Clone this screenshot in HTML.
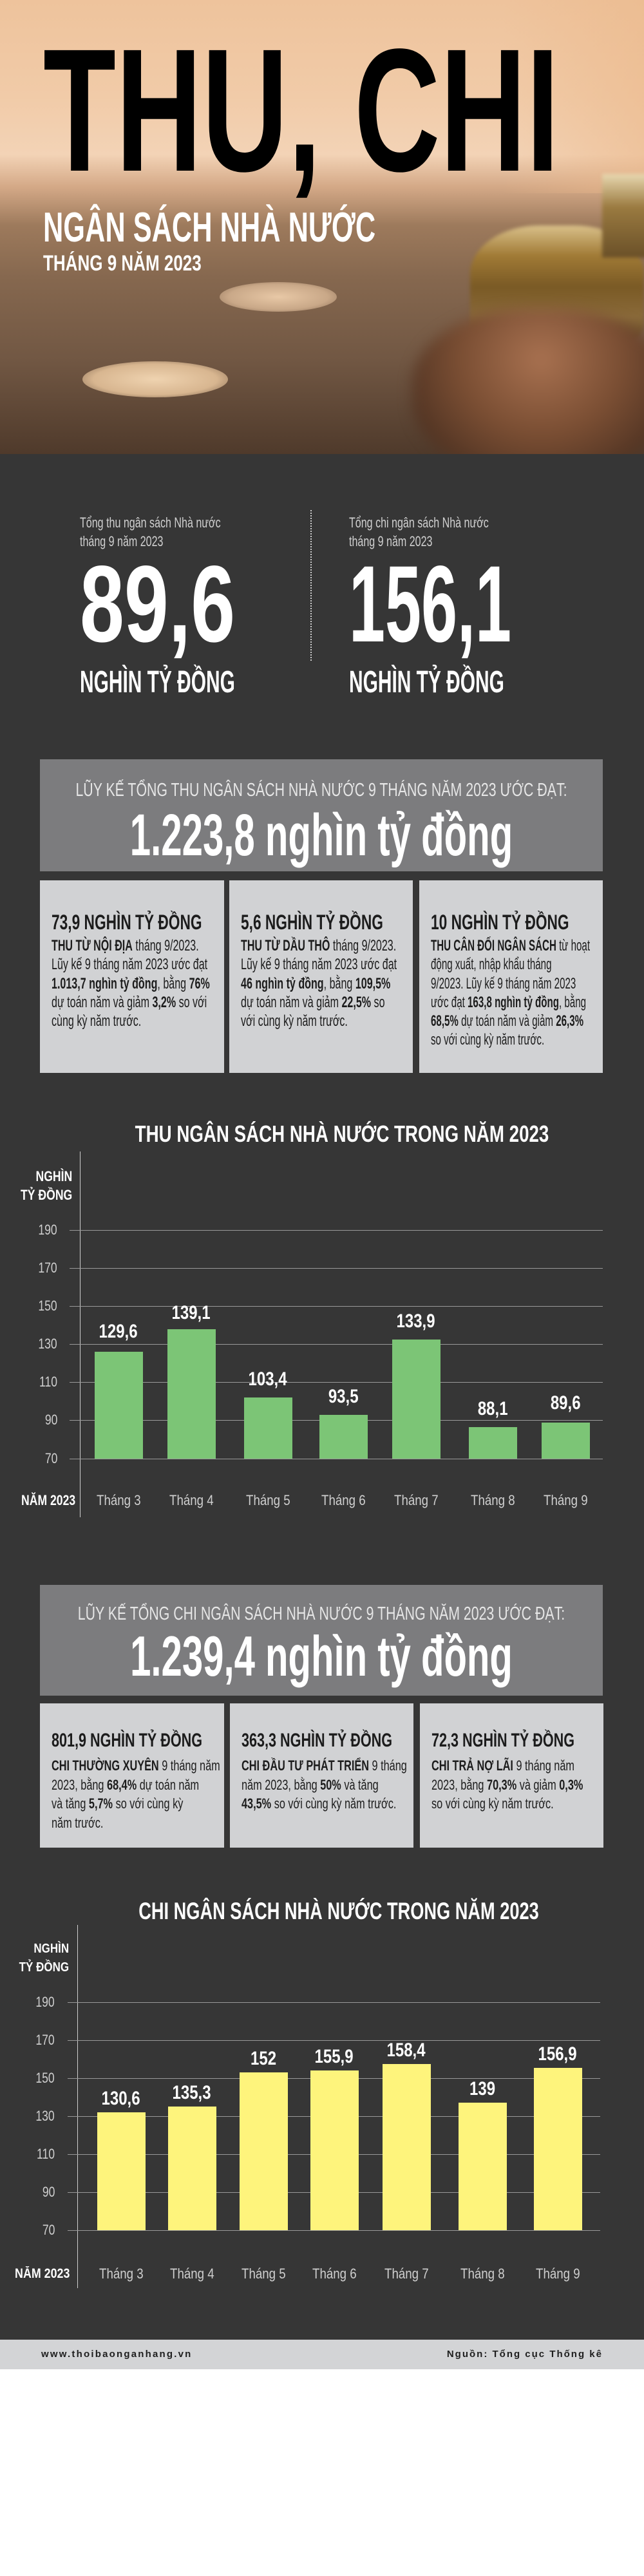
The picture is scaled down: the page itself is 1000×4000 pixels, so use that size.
<!DOCTYPE html>
<html><head><meta charset="utf-8">
<style>
*{margin:0;padding:0;box-sizing:border-box}
body{width:1000px;height:4000px;background:#fff;position:relative;overflow:hidden;font-family:"Liberation Sans",sans-serif}
.a{position:absolute;white-space:nowrap;line-height:1}
.s{display:inline-block;transform-origin:left top}
.m{position:absolute;white-space:nowrap;line-height:1;width:0}
.m .s{position:absolute;left:0;top:0;transform-origin:center top}
.r{text-align:right}.r .s{transform-origin:right top}
.b{font-weight:bold}
.gl{position:absolute;height:1px;background:#9a9a9a}
.bar1{position:absolute;width:75px;background:#7cc576}
.bar2{position:absolute;width:75px;background:#fef47c}
.tk{position:absolute;width:60px;text-align:right;font-size:22px;color:#cfcfcf;line-height:22px}
.tk span{display:inline-block;transform:scaleX(.8);transform-origin:right center}
.vl{position:absolute;width:120px;text-align:center;font-size:30px;font-weight:bold;color:#fff;line-height:1}
.vl span{display:inline-block;transform:scaleX(.8);transform-origin:center}
.xl{position:absolute;width:120px;text-align:center;font-size:22px;color:#cfcfcf;line-height:22px}
.xl span{display:inline-block;transform:scaleX(.85);transform-origin:center}
.box{position:absolute;background:#d1d2d4;color:#1c1c1c;overflow:hidden}
.bi{position:absolute;left:18px;white-space:nowrap;transform-origin:left top}
</style></head><body>

<!-- HERO -->
<div style="position:absolute;left:0;top:0;width:1000px;height:705px;background:linear-gradient(180deg,#eec39c 0px,#f1cba8 150px,#f3d3b6 240px,#d4a987 290px,#9d7a5c 350px,#86684f 430px,#715743 560px,#4f3a2b 705px);overflow:hidden">
  <div style="position:absolute;left:780px;top:0;width:220px;height:300px;background:linear-gradient(90deg,rgba(240,200,160,0),rgba(235,185,140,.6))"></div>
  <div style="position:absolute;left:128px;top:561px;width:226px;height:56px;border-radius:50%;background:radial-gradient(ellipse at center,#efd3b0 0%,#d8b690 60%,rgba(180,140,100,0) 100%)"></div>
  <div style="position:absolute;left:341px;top:438px;width:182px;height:46px;border-radius:50%;background:radial-gradient(ellipse at center,#e8c8a6 0%,#c9a888 60%,rgba(160,120,90,0) 100%)"></div>
  <div style="position:absolute;left:730px;top:350px;width:270px;height:190px;border-radius:40% 40% 20% 20%;background:linear-gradient(180deg,#d9c08a 0%,#a07a35 25%,#7a5a25 50%,#8a6a3a 75%,#5a4020 100%);filter:blur(3px)"></div>
  <div style="position:absolute;left:935px;top:270px;width:80px;height:130px;background:linear-gradient(180deg,#e8d8b0,#9a7a40 40%,#6a5028);filter:blur(3px)"></div>
  <div style="position:absolute;left:640px;top:480px;width:400px;height:260px;border-radius:45%;background:radial-gradient(ellipse at 50% 30%,#a87150 0%,#7a4e33 45%,#4e3222 80%);filter:blur(10px)"></div>
  <div class="a b" style="left:67px;top:35px;font-size:272px;color:#000"><span class="s" style="transform:scaleX(.68)">THU, CHI</span></div>
  <div class="a b" style="left:67px;top:320px;font-size:65px;color:#fff"><span class="s" style="transform:scaleX(.667)">NGÂN SÁCH NHÀ NƯỚC</span></div>
  <div class="a b" style="left:67px;top:392px;font-size:34px;color:#fff"><span class="s" style="transform:scaleX(.765)">THÁNG 9 NĂM 2023</span></div>
</div>

<!-- DARK BG -->
<div style="position:absolute;left:0;top:705px;width:1000px;height:2928px;background:#363636"></div>

<!-- Totals -->
<div class="a" style="left:124px;top:797px;font-size:22px;line-height:29px;color:#d0d0d0"><span class="s" style="transform:scaleX(.73)">Tổng thu ngân sách Nhà nước<br>tháng 9 năm 2023</span></div>
<div class="a b" style="left:124px;top:853px;font-size:169px;color:#fff"><span class="s" style="transform:scaleX(.733)">89,6</span></div>
<div class="a b" style="left:124px;top:1036px;font-size:48px;color:#fff"><span class="s" style="transform:scaleX(.623)">NGHÌN TỶ ĐỒNG</span></div>
<div style="position:absolute;left:482px;top:792px;width:0;height:234px;border-left:2px dotted #cfcfcf"></div>
<div class="a" style="left:542px;top:797px;font-size:22px;line-height:29px;color:#d0d0d0"><span class="s" style="transform:scaleX(.73)">Tổng chi ngân sách Nhà nước<br>tháng 9 năm 2023</span></div>
<div class="a b" style="left:542px;top:853px;font-size:169px;color:#fff"><span class="s" style="transform:scaleX(.596)">156,1</span></div>
<div class="a b" style="left:542px;top:1036px;font-size:48px;color:#fff"><span class="s" style="transform:scaleX(.623)">NGHÌN TỶ ĐỒNG</span></div>

<!-- Box THU -->
<div style="position:absolute;left:62px;top:1179px;width:874px;height:174px;background:#7c7c7e"></div>
<div class="m" style="left:499px;top:1213px;font-size:29px;color:#e6e6e6"><span class="s" style="transform:translateX(-50%) scaleX(.735)">LŨY KẾ TỔNG THU NGÂN SÁCH NHÀ NƯỚC 9 THÁNG NĂM 2023 ƯỚC ĐẠT:</span></div>
<div class="m b" style="left:499px;top:1251px;font-size:92px;color:#fff"><span class="s" style="transform:translateX(-50%) scaleX(.632)">1.223,8 nghìn tỷ đồng</span></div>

<div class="box" style="left:62px;top:1367px;width:286px;height:299px">
 <div class="bi b" style="top:49px;font-size:32px;line-height:1;transform:scaleX(.71)">73,9 NGHÌN TỶ ĐỒNG</div>
 <div class="bi" style="top:87px;font-size:24px;line-height:29.3px;transform:scaleX(.67)"><b>THU TỪ NỘI ĐỊA</b> tháng 9/2023.<br>Lũy kế 9 tháng năm 2023 ước đạt<br><b>1.013,7 nghìn tỷ đồng</b>, bằng <b>76%</b><br>dự toán năm và giảm <b>3,2%</b> so với<br>cùng kỳ năm trước.</div>
</div>
<div class="box" style="left:356px;top:1367px;width:285px;height:299px">
 <div class="bi b" style="top:49px;font-size:32px;line-height:1;transform:scaleX(.71)">5,6 NGHÌN TỶ ĐỒNG</div>
 <div class="bi" style="top:87px;font-size:24px;line-height:29.3px;transform:scaleX(.67)"><b>THU TỪ DẦU THÔ</b> tháng 9/2023.<br>Lũy kế 9 tháng năm 2023 ước đạt<br><b>46 nghìn tỷ đồng</b>, bằng <b>109,5%</b><br>dự toán năm và giảm <b>22,5%</b> so<br>với cùng kỳ năm trước.</div>
</div>
<div class="box" style="left:651px;top:1367px;width:285px;height:299px">
 <div class="bi b" style="top:49px;font-size:32px;line-height:1;transform:scaleX(.71)">10 NGHÌN TỶ ĐỒNG</div>
 <div class="bi" style="top:87px;font-size:24px;line-height:29.3px;transform:scaleX(.63)"><b>THU CÂN ĐỐI NGÂN SÁCH</b> từ hoạt<br>động xuất, nhập khẩu tháng<br>9/2023. Lũy kế 9 tháng năm 2023<br>ước đạt <b>163,8 nghìn tỷ đồng</b>, bằng<br><b>68,5%</b> dự toán năm và giảm <b>26,3%</b><br>so với cùng kỳ năm trước.</div>
</div>

<!-- Chart 1 -->
<div class="m b" style="left:531px;top:1743px;font-size:36px;color:#fff"><span class="s" style="transform:translateX(-50%) scaleX(.77)">THU NGÂN SÁCH NHÀ NƯỚC TRONG NĂM 2023</span></div>
<div style="position:absolute;left:124px;top:1788px;width:1px;height:568px;background:#cfcfcf"></div>
<div class="a r b" style="left:12px;width:100px;top:1812px;font-size:22px;line-height:29px;color:#fff"><span class="s" style="transform:scaleX(.8)">NGHÌN<br>TỶ ĐỒNG</span></div>
<div class="gl" style="left:108px;width:828px;top:1910px"></div>
<div class="gl" style="left:108px;width:828px;top:1969px"></div>
<div class="gl" style="left:108px;width:828px;top:2028px"></div>
<div class="gl" style="left:108px;width:828px;top:2087px"></div>
<div class="gl" style="left:108px;width:828px;top:2146px"></div>
<div class="gl" style="left:108px;width:828px;top:2205px"></div>
<div class="gl" style="left:108px;width:828px;top:2265px"></div>
<div class="tk" style="left:29px;top:1899px"><span>190</span></div>
<div class="tk" style="left:29px;top:1958px"><span>170</span></div>
<div class="tk" style="left:29px;top:2017px"><span>150</span></div>
<div class="tk" style="left:29px;top:2076px"><span>130</span></div>
<div class="tk" style="left:29px;top:2135px"><span>110</span></div>
<div class="tk" style="left:29px;top:2194px"><span>90</span></div>
<div class="tk" style="left:29px;top:2254px"><span>70</span></div>
<div class="bar1" style="left:147px;top:2099px;height:166px"></div>
<div class="bar1" style="left:260px;top:2064px;height:201px"></div>
<div class="bar1" style="left:379px;top:2170px;height:95px"></div>
<div class="bar1" style="left:496px;top:2197px;height:68px"></div>
<div class="bar1" style="left:609px;top:2080px;height:185px"></div>
<div class="bar1" style="left:728px;top:2216px;height:49px"></div>
<div class="bar1" style="left:841px;top:2209px;height:56px"></div>
<div class="vl" style="left:124px;top:2053px"><span>129,6</span></div>
<div class="vl" style="left:237px;top:2024px"><span>139,1</span></div>
<div class="vl" style="left:356px;top:2127px"><span>103,4</span></div>
<div class="vl" style="left:473px;top:2154px"><span>93,5</span></div>
<div class="vl" style="left:586px;top:2037px"><span>133,9</span></div>
<div class="vl" style="left:705px;top:2173px"><span>88,1</span></div>
<div class="vl" style="left:818px;top:2164px"><span>89,6</span></div>
<div class="a r b" style="left:12px;width:100px;top:2319px;font-size:22px;color:#fff"><span class="s" style="transform:scaleX(.8)">NĂM 2023</span></div>
<div class="xl" style="left:124px;top:2319px"><span>Tháng 3</span></div>
<div class="xl" style="left:237px;top:2319px"><span>Tháng 4</span></div>
<div class="xl" style="left:356px;top:2319px"><span>Tháng 5</span></div>
<div class="xl" style="left:473px;top:2319px"><span>Tháng 6</span></div>
<div class="xl" style="left:586px;top:2319px"><span>Tháng 7</span></div>
<div class="xl" style="left:705px;top:2319px"><span>Tháng 8</span></div>
<div class="xl" style="left:818px;top:2319px"><span>Tháng 9</span></div>

<!-- Box CHI -->
<div style="position:absolute;left:62px;top:2461px;width:874px;height:172px;background:#7c7c7e"></div>
<div class="m" style="left:499px;top:2492px;font-size:29px;color:#e6e6e6"><span class="s" style="transform:translateX(-50%) scaleX(.735)">LŨY KẾ TỔNG CHI NGÂN SÁCH NHÀ NƯỚC 9 THÁNG NĂM 2023 ƯỚC ĐẠT:</span></div>
<div class="m b" style="left:499px;top:2528px;font-size:88px;color:#fff"><span class="s" style="transform:translateX(-50%) scaleX(.66)">1.239,4 nghìn tỷ đồng</span></div>

<div class="box" style="left:62px;top:2645px;width:286px;height:224px">
 <div class="bi b" style="top:43px;font-size:30px;line-height:1;transform:scaleX(.72)">801,9 NGHÌN TỶ ĐỒNG</div>
 <div class="bi" style="top:82px;font-size:22px;line-height:29.5px;transform:scaleX(.74)"><b>CHI THƯỜNG XUYÊN</b> 9 tháng năm<br>2023, bằng <b>68,4%</b> dự toán năm<br>và tăng <b>5,7%</b> so với cùng kỳ<br>năm trước.</div>
</div>
<div class="box" style="left:357px;top:2645px;width:285px;height:224px">
 <div class="bi b" style="top:43px;font-size:30px;line-height:1;transform:scaleX(.72)">363,3 NGHÌN TỶ ĐỒNG</div>
 <div class="bi" style="top:82px;font-size:22px;line-height:29.5px;transform:scaleX(.74)"><b>CHI ĐẦU TƯ PHÁT TRIỂN</b> 9 tháng<br>năm 2023, bằng <b>50%</b> và tăng<br><b>43,5%</b> so với cùng kỳ năm trước.</div>
</div>
<div class="box" style="left:652px;top:2645px;width:285px;height:224px">
 <div class="bi b" style="top:43px;font-size:30px;line-height:1;transform:scaleX(.72)">72,3 NGHÌN TỶ ĐỒNG</div>
 <div class="bi" style="top:82px;font-size:22px;line-height:29.5px;transform:scaleX(.74)"><b>CHI TRẢ NỢ LÃI</b> 9 tháng năm<br>2023, bằng <b>70,3%</b> và giảm <b>0,3%</b><br>so với cùng kỳ năm trước.</div>
</div>

<!-- Chart 2 -->
<div class="m b" style="left:526px;top:2949px;font-size:37px;color:#fff"><span class="s" style="transform:translateX(-50%) scaleX(.735)">CHI NGÂN SÁCH NHÀ NƯỚC TRONG NĂM 2023</span></div>
<div style="position:absolute;left:120px;top:2989px;width:1px;height:564px;background:#cfcfcf"></div>
<div class="a r b" style="left:7px;width:100px;top:3012px;font-size:20px;line-height:29px;color:#fff"><span class="s" style="transform:scaleX(.85)">NGHÌN<br>TỶ ĐỒNG</span></div>
<div class="gl" style="left:105px;width:827px;top:3109px"></div>
<div class="gl" style="left:105px;width:827px;top:3168px"></div>
<div class="gl" style="left:105px;width:827px;top:3227px"></div>
<div class="gl" style="left:105px;width:827px;top:3286px"></div>
<div class="gl" style="left:105px;width:827px;top:3345px"></div>
<div class="gl" style="left:105px;width:827px;top:3404px"></div>
<div class="gl" style="left:105px;width:827px;top:3463px"></div>
<div class="tk" style="left:25px;top:3098px"><span>190</span></div>
<div class="tk" style="left:25px;top:3157px"><span>170</span></div>
<div class="tk" style="left:25px;top:3216px"><span>150</span></div>
<div class="tk" style="left:25px;top:3275px"><span>130</span></div>
<div class="tk" style="left:25px;top:3334px"><span>110</span></div>
<div class="tk" style="left:25px;top:3393px"><span>90</span></div>
<div class="tk" style="left:25px;top:3452px"><span>70</span></div>
<div class="bar2" style="left:151px;top:3280px;height:183px"></div>
<div class="bar2" style="left:261px;top:3271px;height:192px"></div>
<div class="bar2" style="left:372px;top:3218px;height:245px"></div>
<div class="bar2" style="left:482px;top:3215px;height:248px"></div>
<div class="bar2" style="left:594px;top:3205px;height:258px"></div>
<div class="bar2" style="left:712px;top:3265px;height:198px"></div>
<div class="bar2" style="left:829px;top:3211px;height:252px"></div>
<div class="vl" style="left:128px;top:3244px"><span>130,6</span></div>
<div class="vl" style="left:238px;top:3235px"><span>135,3</span></div>
<div class="vl" style="left:349px;top:3182px"><span>152</span></div>
<div class="vl" style="left:459px;top:3179px"><span>155,9</span></div>
<div class="vl" style="left:571px;top:3169px"><span>158,4</span></div>
<div class="vl" style="left:689px;top:3229px"><span>139</span></div>
<div class="vl" style="left:806px;top:3175px"><span>156,9</span></div>
<div class="a r b" style="left:8px;width:100px;top:3520px;font-size:21px;color:#fff"><span class="s" style="transform:scaleX(.85)">NĂM 2023</span></div>
<div class="xl" style="left:128px;top:3520px"><span>Tháng 3</span></div>
<div class="xl" style="left:238px;top:3520px"><span>Tháng 4</span></div>
<div class="xl" style="left:349px;top:3520px"><span>Tháng 5</span></div>
<div class="xl" style="left:459px;top:3520px"><span>Tháng 6</span></div>
<div class="xl" style="left:571px;top:3520px"><span>Tháng 7</span></div>
<div class="xl" style="left:689px;top:3520px"><span>Tháng 8</span></div>
<div class="xl" style="left:806px;top:3520px"><span>Tháng 9</span></div>

<!-- Footer -->
<div style="position:absolute;left:0;top:3633px;width:1000px;height:46px;background:#d3d4d6"></div>
<div class="a b" style="left:64px;top:3648px;font-size:15px;letter-spacing:2.2px;color:#1e1e1e">www.thoibaonganhang.vn</div>
<div class="a r b" style="left:536px;width:400px;top:3648px;font-size:15px;letter-spacing:2px;color:#1e1e1e">Nguồn: Tổng cục Thống kê</div>
</body></html>
